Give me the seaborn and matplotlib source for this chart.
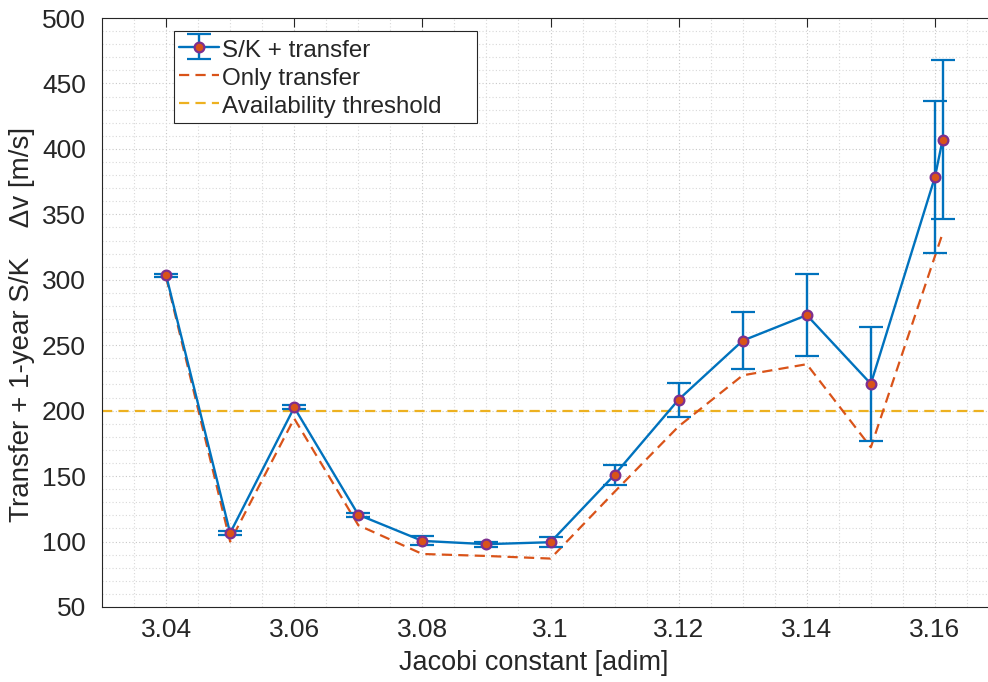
import numpy as np
import pandas as pd
import matplotlib
matplotlib.use("Agg")
import matplotlib.pyplot as plt
import seaborn as sns
from matplotlib.ticker import MultipleLocator

# ---- data ----
jacobi = [3.04, 3.05, 3.06, 3.07, 3.08, 3.09, 3.10, 3.11, 3.12, 3.13, 3.14, 3.15, 3.16, 3.1612]
sk_transfer = [303.5, 106.5, 202.5, 120.5, 100.5, 98.0, 99.5, 151.0, 208.5, 253.5, 273.0, 220.5, 378.5, 407.0]
sk_err = [1.0, 1.5, 1.5, 1.5, 3.5, 1.8, 4.0, 7.8, 13.0, 22.0, 31.5, 43.5, 58.3, 60.6]

jacobi_only = [3.04, 3.05, 3.06, 3.07, 3.08, 3.09, 3.10, 3.11, 3.12, 3.13, 3.14, 3.15, 3.1612]
only_transfer = [302.0, 100.0, 194.0, 112.5, 90.5, 89.0, 87.0, 138.0, 188.0, 227.0, 235.5, 172.0, 335.5]

threshold = 200

labels = ["S/K + transfer", "Only transfer", "Availability threshold"]
xticks = [3.04, 3.06, 3.08, 3.10, 3.12, 3.14, 3.16]
xticklabels = ["3.04", "3.06", "3.08", "3.1", "3.12", "3.14", "3.16"]
xlabel = "Jacobi constant [adim]"
ylabel = "Transfer + 1-year S/K    \u0394v [m/s]"

blue = "#0072BD"
orange = "#D95319"
yellow = "#EDB120"
purple = "#7E2F8E"

sns.set_theme(style="white")
plt.rcParams['font.family'] = ['Liberation Sans', 'DejaVu Sans']

fig = plt.figure(figsize=(9.88, 6.82), dpi=100)
ax = fig.add_axes([102/988, 75/682, 897/988, 589/682])

df_only = pd.DataFrame({"x": jacobi_only, "y": only_transfer})

ax.errorbar(jacobi, sk_transfer, yerr=sk_err, color=blue, lw=1.7,
            elinewidth=1.7, capsize=8.3, capthick=1.7,
            marker='o', markersize=7, markerfacecolor=orange,
            markeredgecolor=purple, markeredgewidth=1.6,
            label=labels[0], zorder=4)

sns.lineplot(data=df_only, x="x", y="y", ax=ax, color=orange, lw=1.6,
             dashes=False, label=labels[1], zorder=3, sort=False)
ax.lines[-1].set_dashes((4.6, 2.8))

thr = ax.axhline(threshold, color=yellow, lw=1.6, label=labels[2], zorder=2)
thr.set_dashes((4.6, 2.8))

ax.set_xlim(3.03, 3.17)
ax.set_ylim(50, 500)
ax.xaxis.set_minor_locator(MultipleLocator(0.005))
ax.yaxis.set_major_locator(MultipleLocator(50))
ax.yaxis.set_minor_locator(MultipleLocator(10))
ax.set_xticks(xticks)
ax.set_xticklabels(xticklabels)

ax.grid(which='major', color='#c8c8c8', linestyle=(0, (1, 2)), lw=0.8)
ax.grid(which='minor', color='#d8d8d8', linestyle=(0, (1, 2)), lw=0.8)
ax.set_axisbelow(True)

ax.tick_params(which='major', direction='in', length=6.5, width=0.8,
               colors='#262626', labelsize=19, top=True, right=False)
ax.tick_params(axis='x', which='major', pad=8)
ax.tick_params(axis='y', which='major', pad=11.5)
ax.tick_params(which='minor', length=0)
for s in ['left', 'bottom', 'top']:
    ax.spines[s].set_color('#262626')
    ax.spines[s].set_linewidth(0.8)
ax.spines['right'].set_visible(False)

ax.set_xlabel(xlabel, fontsize=19.5, color='#262626')
ax.set_ylabel(ylabel, fontsize=20, color='#262626')
ax.xaxis.set_label_coords(0.481, -0.073)
ax.yaxis.set_label_coords(-0.0747, 0.479)

handles, labs = ax.get_legend_handles_labels()
order = [labs.index(l) for l in labels]
leg = ax.legend([handles[i] for i in order], [labs[i] for i in order],
                loc='upper left', bbox_to_anchor=(0.0803, 0.0, 0.3378, 0.978),
                mode='expand', borderaxespad=0,
                fontsize=17.4, frameon=True, fancybox=False, framealpha=1,
                edgecolor='#262626', handlelength=1.65, handletextpad=0.1,
                handleheight=1.19, borderpad=0.22, labelspacing=0.11)
leg.get_frame().set_linewidth(0.8)

fig.savefig("out.png", dpi=100)
